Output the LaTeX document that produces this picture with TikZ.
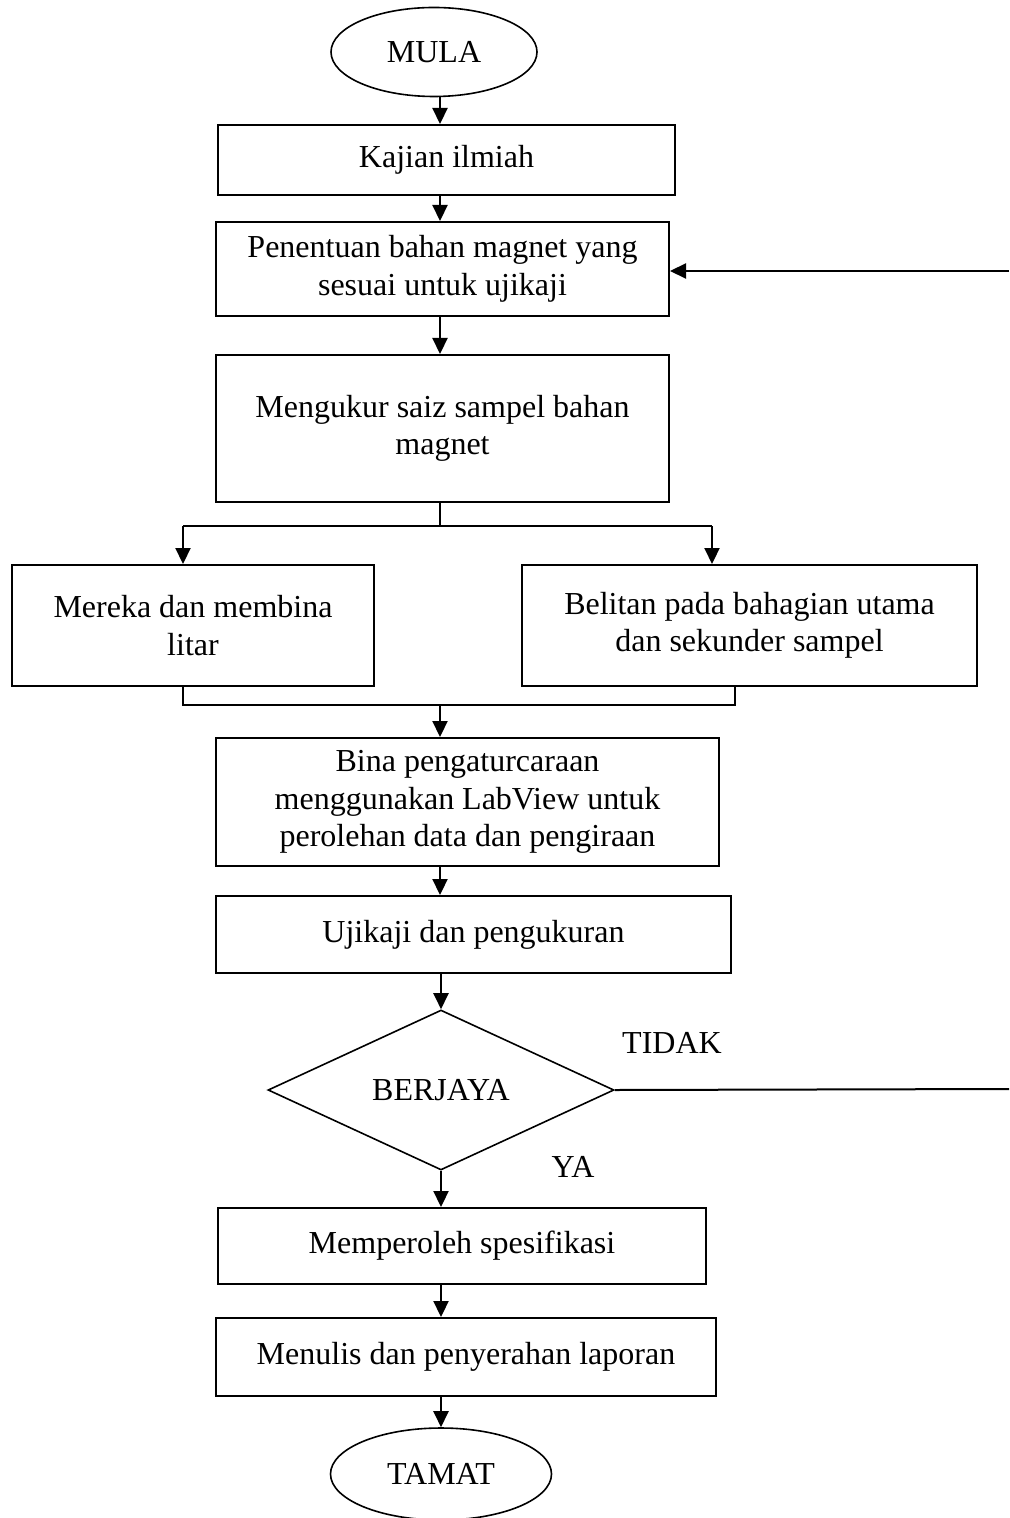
\documentclass[tikz,border=0pt]{standalone}
\usepackage{fontspec}
\setmainfont{Liberation Serif}
\usetikzlibrary{shapes.geometric,arrows.meta}
\newcommand{\linecol}{black}

\tikzset{
    box/.style={draw=\linecol, line width=1pt, rectangle, align=center, inner sep=0pt},
    term/.style={draw=\linecol, line width=0.8pt, ellipse, inner sep=0pt},
    decide/.style={draw=\linecol, line width=0.8pt, diamond, inner sep=0pt},
    arr/.style={draw=\linecol, line width=1.1pt, -{Triangle[length=8pt,width=7.5pt]}},
    link/.style={draw=\linecol, line width=1pt},
}

\begin{document}
\begin{tikzpicture}[x=0.5pt, y=-0.5pt, font=\fontsize{16}{18.8}\selectfont]

    \useasboundingbox (0,0) rectangle (1009,1518);

    \node[term, minimum width=103pt, minimum height=44.5pt] (mula) at (434, 52) {MULA};
    \node[box, minimum width=228.5pt, minimum height=35pt] (kajian) at (446.5, 160) {Kajian ilmiah};
    \node[box, minimum width=226.5pt, minimum height=47pt] (penentuan) at (442.5, 269) {Penentuan bahan magnet yang\\sesuai untuk ujikaji};
    \node[box, minimum width=226.5pt, minimum height=73.5pt] (mengukur) at (442.5, 428.5) {Mengukur saiz sampel bahan\\magnet};

    \node[box, minimum width=181pt, minimum height=60.5pt] (mereka) at (193, 625.5) {Mereka dan membina\\litar};
    \node[box, minimum width=227.5pt, minimum height=60.5pt] (belitan) at (749.5, 625.5) {Belitan pada bahagian utama\\dan sekunder sampel};

    \node[box, minimum width=251.5pt, minimum height=64pt] (bina) at (467.5, 802) {Bina pengaturcaraan\\menggunakan LabView untuk\\perolehan data dan pengiraan};
    \node[box, minimum width=257.5pt, minimum height=38.5pt] (ujikaji) at (473.5, 934.5) {Ujikaji dan pengukuran};
    \node[decide, minimum width=173pt, minimum height=80pt] (berjaya) at (441, 1090) {BERJAYA};
    \node[box, minimum width=244pt, minimum height=38pt] (memperoleh) at (462, 1246) {Memperoleh spesifikasi};
    \node[box, minimum width=250pt, minimum height=39pt] (menulis) at (466, 1357) {Menulis dan penyerahan laporan};
    \node[term, minimum width=110.5pt, minimum height=46pt] (tamat) at (441, 1474) {TAMAT};

    \node (tidak) at (672, 1043) {TIDAK};
    \node (ya) at (573, 1167) {YA};

    \coordinate (col) at (440, 0);
    \coordinate (splitL) at (183, 526);
    \coordinate (splitR) at (712, 526);
    \coordinate (joinL) at (183, 705);
    \coordinate (joinR) at (735, 705);
    \coordinate (tidakEnd) at (1009, 1089);
    \coordinate (balik) at (1009, 271);

    \draw[arr] (mula.south -| col) -- (kajian.north -| col);
    \draw[arr] (kajian.south -| col) -- (penentuan.north -| col);
    \draw[arr] (penentuan.south -| col) -- (mengukur.north -| col);

    \draw[draw=\linecol, line width=0.6pt] (mengukur.south -| col) -- (splitL -| col);
    \draw[link] (splitL) -- (splitR);
    \draw[arr] (splitL) -- (mereka.north -| splitL);
    \draw[arr] (splitR) -- (belitan.north -| splitR);

    \draw[link] (mereka.south -| joinL) -- (joinL) -- (joinR) -- (belitan.south -| joinR);
    \draw[arr] (joinL -| col) -- (bina.north -| col);

    \draw[arr] (bina.south -| col) -- (ujikaji.north -| col);
    \draw[arr] (ujikaji.south -| berjaya.north) -- (berjaya.north);
    \draw[arr] (berjaya.south) -- (memperoleh.north -| berjaya.south);
    \draw[arr] (memperoleh.south -| berjaya.south) -- (menulis.north -| berjaya.south);
    \draw[arr] (menulis.south -| tamat) -- (tamat.north);

    \draw[link] (berjaya.east) -- (tidakEnd);
    \draw[arr] (balik) -- (penentuan.east |- balik);

\end{tikzpicture}
\end{document}
